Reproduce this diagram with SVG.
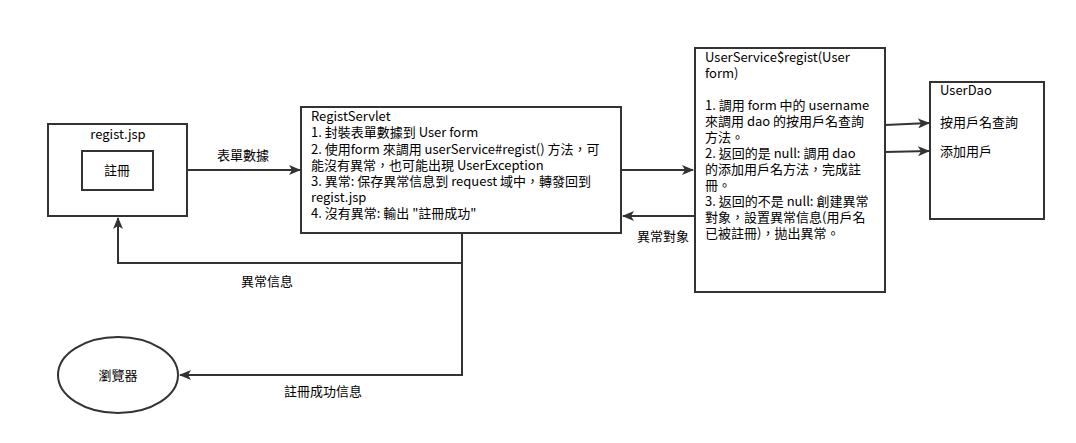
<svg xmlns="http://www.w3.org/2000/svg" width="1076" height="443" viewBox="0 0 1076 443">
<defs>
<style>
.box{fill:#fff;stroke:#333;stroke-width:2}
.ln{fill:none;stroke:#333;stroke-width:2}
text{font-family:"Microsoft YaHei","Noto Sans CJK TC","Noto Sans",sans-serif;font-size:13px;fill:#000}
</style>
<marker id="ah" markerWidth="12" markerHeight="10" refX="11" refY="5" orient="auto" markerUnits="userSpaceOnUse">
<path d="M0,0 L12,5 L0,10 L3,5 Z" fill="#333"/>
</marker>
</defs>
<rect width="1076" height="443" fill="#fff"/>
<g id="connectors">
<line class="ln" x1="187" y1="170" x2="300" y2="170" marker-end="url(#ah)"/>
<text x="243" y="160" text-anchor="middle">表單數據</text>
<polyline class="ln" points="462,233 462,263 118,263 118,218" marker-end="url(#ah)"/>
<text x="267" y="286" text-anchor="middle">異常信息</text>
<polyline class="ln" points="462,263 462,375 180,375" marker-end="url(#ah)"/>
<text x="323" y="396" text-anchor="middle">註冊成功信息</text>
<line class="ln" x1="621" y1="170" x2="693" y2="170" marker-end="url(#ah)"/>
<line class="ln" x1="695" y1="216" x2="623" y2="216" marker-end="url(#ah)"/>
<text x="663" y="241" text-anchor="middle">異常對象</text>
<line class="ln" x1="885" y1="125" x2="929" y2="123" marker-end="url(#ah)"/>
<line class="ln" x1="885" y1="152" x2="929" y2="151" marker-end="url(#ah)"/>
</g>
<g id="regist-jsp">
<rect class="box" x="48" y="124" width="139" height="92"/>
<text x="118" y="139" text-anchor="middle">regist.jsp</text>
</g>
<g id="register-button">
<rect class="box" x="82" y="151" width="71" height="39"/>
<text x="117" y="175" text-anchor="middle">註冊</text>
</g>
<g id="regist-servlet">
<rect class="box" x="301" y="107" width="320" height="126"/>
<text x="311" y="121">RegistServlet</text>
<text x="311" y="137">1. 封裝表單數據到 User form</text>
<text x="311" y="154">2. 使用form 來調用 userService#regist() 方法，可</text>
<text x="311" y="170">能沒有異常，也可能出現 UserException</text>
<text x="311" y="186">3. 異常: 保存異常信息到 request 域中，轉發回到</text>
<text x="311" y="202">regist.jsp</text>
<text x="311" y="218">4. 沒有異常: 輸出 "註冊成功"</text>
</g>
<g id="user-service">
<rect class="box" x="695" y="48" width="190" height="244"/>
<text x="705" y="62">UserService$regist(User</text>
<text x="705" y="78">form)</text>
<text x="705" y="110">1. 調用 form 中的 username</text>
<text x="705" y="126">來調用 dao 的按用戶名查詢</text>
<text x="705" y="142">方法。</text>
<text x="705" y="158">2. 返回的是 null: 調用 dao</text>
<text x="705" y="174">的添加用戶名方法，完成註</text>
<text x="705" y="190">冊。</text>
<text x="705" y="206">3. 返回的不是 null: 創建異常</text>
<text x="705" y="222">對象，設置異常信息(用戶名</text>
<text x="705" y="238">已被註冊)，拋出異常。</text>
</g>
<g id="user-dao">
<rect class="box" x="930" y="82" width="114" height="137"/>
<text x="940" y="95">UserDao</text>
<text x="940" y="127">按用戶名查詢</text>
<text x="940" y="156">添加用戶</text>
</g>
<g id="browser">
<ellipse class="box" cx="118" cy="375" rx="60" ry="38"/>
<text x="118" y="380" text-anchor="middle">瀏覽器</text>
</g>
</svg>
